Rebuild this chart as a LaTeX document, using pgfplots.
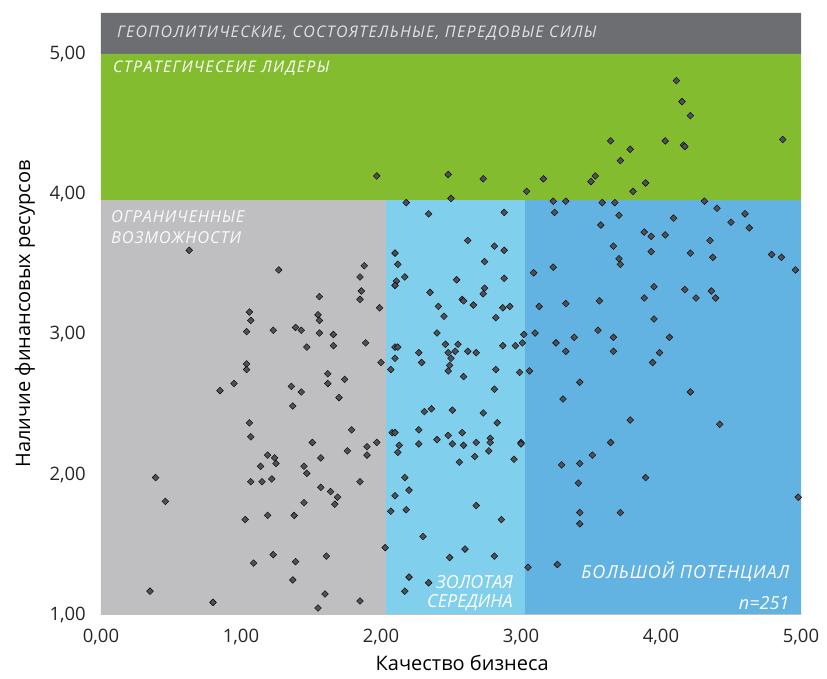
\documentclass[border=0pt]{standalone}
\usepackage{fontspec}
\setmainfont{Open Sans}
\newfontfamily\bandfont{Open Sans}[LetterSpace=8]
\newfontfamily\limfont{Open Sans}[LetterSpace=5]
\newfontfamily\potfont{Open Sans}[LetterSpace=5]
\usepackage{pgfplots}
\pgfplotsset{compat=1.18}
\definecolor{bandc}{HTML}{6D6E71}
\definecolor{greenc}{HTML}{84BC2F}
\definecolor{grayc}{HTML}{BFBFC1}
\definecolor{lbluec}{HTML}{7FCFED}
\definecolor{bluec}{HTML}{62B2E2}
\definecolor{markc}{HTML}{4F5058}
\definecolor{axisc}{HTML}{BFBFBF}
\begin{document}
\begin{tikzpicture}
\useasboundingbox (-101pt,-64pt) rectangle (726pt,615pt);
\begin{axis}[
  at={(0pt,0pt)}, anchor=south west,
  scale only axis, width=700pt, height=602pt,
  xmin=0, xmax=5, ymin=1, ymax=5.292,
  xtick={0,1,2,3,4,5}, ytick={1,2,3,4,5},
  axis line style={draw=none},
  major tick length=0pt,
  ticklabel style={font=\fontsize{18.5}{22}\selectfont, text=black!85},
  xticklabel style={anchor=north, inner sep=0pt, yshift=-14pt},
  yticklabel style={anchor=east, inner sep=0pt, xshift=-15pt},
  /pgf/number format/assume math mode=true,
  /pgf/number format/fixed,
  /pgf/number format/fixed zerofill,
  /pgf/number format/precision=2,
  /pgf/number format/use comma,
  xlabel={Качество бизнеса},
  xlabel style={at={(axis description cs:0.516,-0.0797)}, anchor=center, font=\fontsize{20}{24}\selectfont},
  ylabel={Наличие финансовых ресурсов},
  ylabel style={at={(axis description cs:-0.1086,0.5)}, anchor=center, font=\fontsize{20}{24}\selectfont},
]
% background regions
\addplot[fill=bandc, draw=none] coordinates {(0,5) (0,5.292) (5,5.292) (5,5) (0,5)};
\addplot[fill=greenc, draw=none] coordinates {(0,3.957) (0,5) (5,5) (5,3.957) (0,3.957)};
\addplot[fill=grayc, draw=none] coordinates {(0,1) (0,3.957) (2.036,3.957) (2.036,1) (0,1)};
\addplot[fill=lbluec, draw=none] coordinates {(2.036,1) (2.036,3.957) (3.029,3.957) (3.029,1) (2.036,1)};
\addplot[fill=bluec, draw=none] coordinates {(3.029,1) (3.029,3.957) (5,3.957) (5,1) (3.029,1)};
\addplot[axisc, line width=1.2pt] coordinates {(0,1) (5.03,1)};
% labels in regions
\node[anchor=west, inner sep=0pt, font=\bandfont\itshape\fontsize{16}{20}\selectfont, text=white!80!bandc] at (axis cs:0.114,5.150) {ГЕОПОЛИТИЧЕСКИЕ, СОСТОЯТЕЛЬНЫЕ, ПЕРЕДОВЫЕ СИЛЫ};
\node[anchor=west, inner sep=0pt, font=\bandfont\itshape\fontsize{16}{20}\selectfont, text=white] at (axis cs:0.086,4.900) {СТРАТЕГИЧЕСЕИЕ ЛИДЕРЫ};
\node[anchor=west, inner sep=0pt, align=left, font=\limfont\itshape\fontsize{16.5}{21}\selectfont, text=white!92!grayc] at (axis cs:0.071,3.763) {ОГРАНИЧЕННЫЕ\\ВОЗМОЖНОСТИ};
\node[anchor=east, inner sep=0pt, align=right, font=\itshape\fontsize{18}{19.5}\selectfont, text=white] at (axis cs:2.943,1.157) {ЗОЛОТАЯ\\СЕРЕДИНА};
\node[anchor=east, inner sep=0pt, font=\potfont\itshape\fontsize{18}{20}\selectfont, text=white] at (axis cs:4.918,1.307) {БОЛЬШОЙ ПОТЕНЦИАЛ};
\node[anchor=east, inner sep=0pt, font=\itshape\fontsize{18}{20}\selectfont, text=white] at (axis cs:4.918,1.086) {n=251};
% data
\addplot[only marks, mark=square*, mark size=2.4pt, mark options={rotate=45, fill=markc, draw=none}] table {
x y
1.97 4.13
2.48 4.14
2.73 4.11
3.16 4.11
3.04 4.02
2.50 3.97
2.18 3.94
2.34 3.86
2.88 3.87
3.23 3.95
3.32 3.95
3.24 3.87
4.11 4.81
4.15 4.66
4.21 4.56
3.64 4.38
4.03 4.38
4.16 4.35
4.17 4.34
4.87 4.39
3.78 4.32
3.71 4.24
3.53 4.13
3.50 4.09
3.89 4.08
3.80 4.02
3.58 3.94
3.67 3.94
4.31 3.95
4.40 3.90
4.60 3.86
3.70 3.85
4.09 3.83
3.57 3.78
4.50 3.80
4.63 3.76
3.88 3.73
3.93 3.70
4.03 3.71
4.35 3.67
3.66 3.63
3.93 3.59
3.70 3.54
3.71 3.50
4.21 3.58
4.37 3.55
4.79 3.57
4.86 3.55
4.96 3.46
3.95 3.34
3.88 3.26
4.17 3.32
4.25 3.26
4.36 3.31
4.39 3.26
3.56 3.24
3.95 3.11
3.55 3.03
3.38 2.98
3.66 2.98
4.06 2.98
3.66 2.88
3.99 2.87
3.94 2.80
3.42 2.66
4.21 2.59
3.78 2.39
2.62 3.67
2.81 3.63
2.88 3.60
2.10 3.58
2.12 3.50
2.74 3.52
1.88 3.49
1.85 3.41
2.17 3.41
2.11 3.38
2.10 3.35
2.54 3.39
2.88 3.40
3.09 3.44
3.23 3.48
1.86 3.31
1.85 3.25
1.99 3.19
2.35 3.30
2.74 3.33
2.73 3.29
2.58 3.25
2.59 3.24
2.66 3.21
2.41 3.20
2.45 3.13
2.87 3.19
2.92 3.20
2.82 3.12
3.13 3.20
3.32 3.22
1.89 2.94
2.40 3.01
2.46 2.93
2.55 2.93
2.48 2.87
2.53 2.88
2.50 2.83
2.62 2.88
2.68 2.87
2.10 2.91
2.12 2.91
2.27 2.87
2.29 2.80
2.10 2.83
2.07 2.75
2.00 2.80
2.49 2.78
2.48 2.74
2.59 2.70
2.87 2.92
2.96 2.92
3.01 2.94
3.02 3.00
3.10 3.01
3.25 2.94
3.32 2.88
2.82 2.75
2.99 2.73
3.06 2.74
2.81 2.61
3.30 2.54
1.74 2.68
1.70 2.55
2.31 2.45
2.36 2.47
2.51 2.46
2.73 2.44
0.63 3.60
1.27 3.46
1.56 3.27
1.06 3.16
1.07 3.10
1.04 3.02
1.23 3.03
1.39 3.05
1.43 3.03
1.55 3.14
1.56 3.10
1.56 3.01
1.66 3.00
1.66 2.92
1.47 2.91
1.04 2.79
1.04 2.75
0.95 2.65
0.85 2.60
1.36 2.63
1.43 2.59
1.37 2.49
1.62 2.72
1.62 2.65
1.06 2.37
1.07 2.27
1.51 2.23
1.19 2.14
1.24 2.12
1.25 2.08
1.14 2.06
1.07 1.95
1.15 1.95
1.22 1.97
1.45 2.06
1.47 2.01
1.57 2.12
1.57 1.91
1.64 1.88
0.39 1.98
0.46 1.81
1.45 1.80
1.03 1.68
1.19 1.71
1.38 1.71
1.23 1.43
1.09 1.37
1.39 1.38
1.61 1.42
1.37 1.25
1.60 1.15
1.55 1.05
0.35 1.17
0.80 1.09
1.79 2.32
1.76 2.17
1.90 2.20
1.90 2.14
1.97 2.23
1.85 1.95
1.69 1.84
1.67 1.79
2.08 2.30
2.10 2.30
2.27 2.32
2.13 2.21
2.12 2.16
2.27 2.22
2.40 2.25
2.48 2.28
2.58 2.30
2.51 2.22
2.59 2.21
2.68 2.23
2.78 2.26
2.78 2.23
2.77 2.17
2.67 2.13
2.56 2.09
2.83 2.37
3.00 2.23
3.00 2.22
2.95 2.11
3.29 2.07
2.17 1.98
2.20 1.89
2.10 1.85
2.07 1.74
2.18 1.75
2.68 1.78
2.86 1.68
2.30 1.56
2.03 1.48
2.60 1.47
2.49 1.41
2.81 1.42
3.05 1.34
3.26 1.36
2.20 1.27
2.34 1.23
2.17 1.17
1.85 1.10
4.42 2.36
3.64 2.23
3.51 2.14
3.42 2.08
3.89 1.98
3.41 1.94
3.42 1.73
3.42 1.65
3.71 1.73
4.98 1.84
};
\end{axis}
\end{tikzpicture}
\end{document}
